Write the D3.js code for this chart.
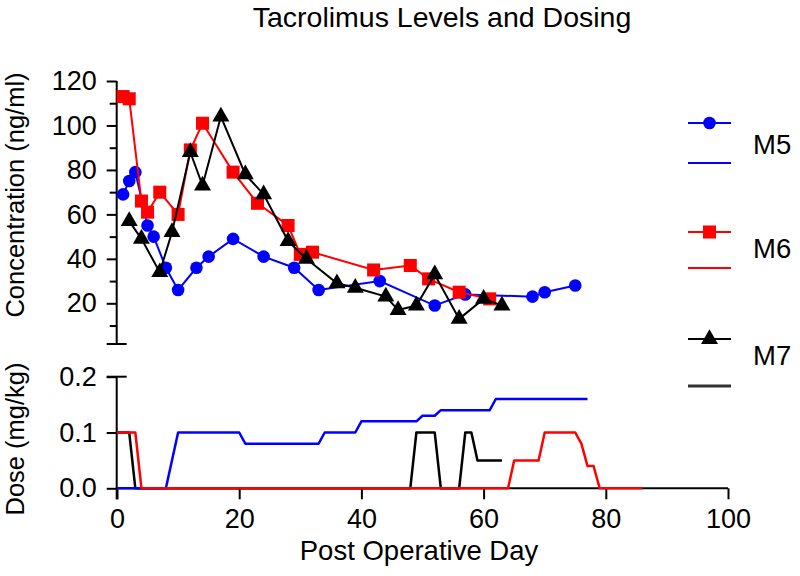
<!DOCTYPE html>
<html>
<head>
<meta charset="utf-8">
<script src="https://cdn.jsdelivr.net/npm/d3@7"></script>
<style>
  body { margin: 0; background: #fff; }
  text { font-family: "Liberation Sans", Arial, Helvetica, sans-serif; fill: #000; }
</style>
</head>
<body>
<svg id="chart" width="800" height="576"></svg>
<script>
// ---- Data ----
const seriesNames = ["M5", "M6", "M7"];
const seriesColors = ["#0000ff", "#ff0000", "#000000"];

// Concentration (ng/ml) by post operative day
const m5ConcDays = [1, 2, 3, 5, 6, 8, 10, 13, 15, 19, 24, 29, 33, 43, 52, 57, 68, 70, 75];
const m5ConcVals = [69, 75, 79, 55, 50, 36, 26, 36, 41, 49, 41, 36, 26, 30, 19, 24, 23, 25, 28];
const m6ConcDays = [1, 2, 4, 5, 7, 10, 12, 14, 19, 23, 28, 30, 32, 42, 48, 51, 56, 61];
const m6ConcVals = [113, 112, 66, 61, 70, 60, 89, 101, 79, 65, 55, 42, 43, 35, 37, 31, 25, 22];
const m7ConcDays = [2, 4, 7, 9, 12, 14, 17, 21, 24, 28, 31, 36, 39, 44, 46, 49, 52, 56, 60, 63];
const m7ConcVals = [57, 49, 34, 52, 88, 73, 104, 78, 69, 48, 40, 29, 27, 23, 17, 19, 33, 13, 22, 19];

// Dose (mg/kg) by post operative day
const m5DoseDays = [0, 8, 10, 20, 21, 33, 34, 39, 40, 49, 50, 52, 53, 61, 62, 77];
const m5DoseVals = [0, 0, 0.1, 0.1, 0.08, 0.08, 0.1, 0.1, 0.12, 0.12, 0.13, 0.13, 0.14, 0.14, 0.16, 0.16];
const m6DoseDays = [0, 3, 4, 64, 65, 69, 70, 75, 76, 77, 78, 79, 86];
const m6DoseVals = [0.1, 0.1, 0, 0, 0.05, 0.05, 0.1, 0.1, 0.08, 0.04, 0.04, 0, 0];
const m7DoseDays = [0, 2, 3, 48, 49, 52, 53, 56, 57, 58, 59, 63];
const m7DoseVals = [0.1, 0.1, 0, 0, 0.1, 0.1, 0, 0, 0.1, 0.1, 0.05, 0.05];

// Axis ticks
const xTicks = [0, 20, 40, 60, 80, 100];
const concMajorTicks = [20, 40, 60, 80, 100, 120];
const concMinorTicks = [10, 30, 50, 70, 90, 110];
const doseTicks = [0, 0.1, 0.2];

// ---- Build ----
const svg = d3.select("#chart");
const zip = (xs, ys) => xs.map((d, i) => [d, ys[i]]);
const conc = [zip(m5ConcDays, m5ConcVals), zip(m6ConcDays, m6ConcVals), zip(m7ConcDays, m7ConcVals)];
const dose = [zip(m5DoseDays, m5DoseVals), zip(m6DoseDays, m6DoseVals), zip(m7DoseDays, m7DoseVals)];

const x = d3.scaleLinear().domain([0, 100]).range([117, 728]);
const yC = d3.scaleLinear().domain([1.7, 120]).range([344, 81]);
const yD = d3.scaleLinear().domain([0, 0.2]).range([488.3, 376.7]);
const AX = 116.7;
const FS = 27;

// Title
svg.append("text").attr("x", 442).attr("y", 27).attr("text-anchor", "middle")
  .style("font-size", "28.5px").text("Tacrolimus Levels and Dosing");

// Top y axis
const gTop = svg.append("g").attr("transform", `translate(${AX},0)`);
gTop.append("g").call(d3.axisLeft(yC).tickValues(concMajorTicks).tickSize(10).tickPadding(10))
  .call(g => g.select(".domain").remove())
  .call(g => g.selectAll("line").attr("stroke", "#000").attr("stroke-width", 2))
  .call(g => g.selectAll("text").style("font-size", FS + "px").attr("font-family", null));
gTop.append("g").call(d3.axisLeft(yC).tickValues(concMinorTicks).tickSize(7).tickFormat(""))
  .call(g => g.select(".domain").remove())
  .call(g => g.selectAll("line").attr("stroke", "#000").attr("stroke-width", 2));
gTop.append("line").attr("x1", 0).attr("x2", 0).attr("y1", yC(120)).attr("y2", yC(1.7))
  .attr("stroke", "#000").attr("stroke-width", 2);
gTop.append("line").attr("x1", -10).attr("x2", 10).attr("y1", yC(1.7)).attr("y2", yC(1.7))
  .attr("stroke", "#000").attr("stroke-width", 2);

// Bottom y axis
const gBot = svg.append("g").attr("transform", `translate(${AX},0)`);
gBot.append("g").call(d3.axisLeft(yD).tickValues(doseTicks).tickSize(10).tickPadding(10).tickFormat(d3.format(".1f")))
  .call(g => g.select(".domain").remove())
  .call(g => g.selectAll("line").attr("stroke", "#000").attr("stroke-width", 2))
  .call(g => g.selectAll("text").style("font-size", FS + "px").attr("font-family", null));
gBot.append("line").attr("x1", 0).attr("x2", 0).attr("y1", yD(0.2)).attr("y2", yD(0) + 11)
  .attr("stroke", "#000").attr("stroke-width", 2);
gBot.append("line").attr("x1", -10).attr("x2", 10).attr("y1", yD(0.2)).attr("y2", yD(0.2))
  .attr("stroke", "#000").attr("stroke-width", 2);

// X axis (bottom panel)
svg.append("g").attr("transform", `translate(0,${yD(0)})`)
  .call(d3.axisBottom(x).tickValues(xTicks).tickSize(11).tickPadding(10))
  .call(g => g.select(".domain").attr("stroke", "#000").attr("stroke-width", 2).attr("d", `M${x(0)},0H${x(100)}`))
  .call(g => g.selectAll("line").attr("stroke", "#000").attr("stroke-width", 2))
  .call(g => g.selectAll("text").style("font-size", FS + "px").attr("font-family", null));

// Axis titles
svg.append("text").attr("transform", "translate(24,195) rotate(-90)").attr("text-anchor", "middle")
  .style("font-size", "25.5px").text("Concentration (ng/ml)");
svg.append("text").attr("transform", "translate(24,439) rotate(-90)").attr("text-anchor", "middle")
  .style("font-size", "25.5px").text("Dose (mg/kg)");
svg.append("text").attr("x", 419).attr("y", 560).attr("text-anchor", "middle")
  .style("font-size", "27.5px").text("Post Operative Day");

// Dose lines
const lineD = d3.line().x(d => x(d[0])).y(d => yD(d[1]));
[2, 0, 1].forEach(i => {
  svg.append("path").datum(dose[i]).attr("d", lineD).attr("fill", "none")
    .attr("stroke", seriesColors[i]).attr("stroke-width", 2.5).attr("stroke-linejoin", "round");
});

// Concentration lines and markers
const lineC = d3.line().x(d => x(d[0])).y(d => yC(d[1]));
const symbols = [d3.symbolCircle, d3.symbolSquare, d3.symbolTriangle];
const sizes = [125, 170, 125];
[0, 1, 2].forEach(i => {
  const g = svg.append("g");
  g.append("path").datum(conc[i]).attr("d", lineC).attr("fill", "none")
    .attr("stroke", seriesColors[i]).attr("stroke-width", 2);
  g.selectAll("path.m").data(conc[i]).join("path").attr("class", "m")
    .attr("transform", d => `translate(${x(d[0])},${yC(d[1])})`)
    .attr("d", d3.symbol().type(symbols[i]).size(sizes[i]))
    .attr("fill", seriesColors[i]);
});

// Legend
const legY = [123, 232, 339];
const legLineY = [163, 268, 386];
const legTextY = [154, 258, 365];
seriesNames.forEach((name, i) => {
  const g = svg.append("g");
  g.append("line").attr("x1", 688).attr("x2", 731).attr("y1", legY[i]).attr("y2", legY[i])
    .attr("stroke", seriesColors[i]).attr("stroke-width", 2);
  g.append("path").attr("transform", `translate(709.5,${legY[i]})`)
    .attr("d", d3.symbol().type(symbols[i]).size(sizes[i])).attr("fill", seriesColors[i]);
  g.append("line").attr("x1", 688).attr("x2", 731).attr("y1", legLineY[i]).attr("y2", legLineY[i])
    .attr("stroke", i === 2 ? "#333" : seriesColors[i]).attr("stroke-width", i === 2 ? 3 : 2);
  g.append("text").attr("x", 753).attr("y", legTextY[i]).style("font-size", "27.5px").text(name);
});
</script>
</body>
</html>
